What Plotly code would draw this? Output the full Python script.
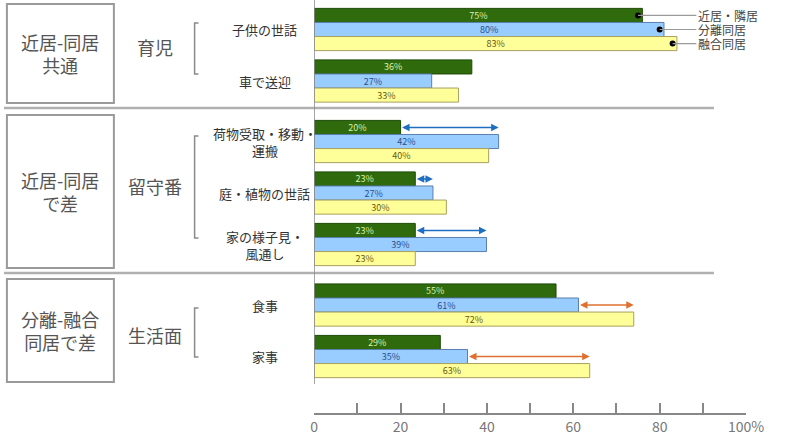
import plotly.graph_objects as go

# data
categories = ["子供の世話", "車で送迎", "荷物受取・移動・<br>運搬", "庭・植物の世話",
              "家の様子見・<br>風通し", "食事", "家事"]
cat_group = [0, 0, 1, 1, 1, 2, 2]
series_names = ["近居・隣居", "分離同居", "融合同居"]
near_vals = [76, 36.5, 20, 23.4, 23.4, 56, 29.2]
sep_vals = [81, 27.2, 42.7, 27.5, 39.9, 61.2, 35.5]
fused_vals = [84, 33.4, 40.4, 30.6, 23.4, 74, 63.8]
near_labels = ["75%", "36%", "20%", "23%", "23%", "55%", "29%"]
sep_labels = ["80%", "27%", "42%", "27%", "39%", "61%", "35%"]
fused_labels = ["83%", "33%", "40%", "30%", "23%", "72%", "63%"]
group_titles = ["近居-同居<br>共通", "近居-同居<br>で差", "分離-融合<br>同居で差"]
group_subtitles = ["育児", "留守番", "生活面"]
tick_vals = [0, 20, 40, 60, 80, 100]
tick_text = ["0", "20", "40", "60", "80", "100%"]

W, H = 800, 436
FONT = "Noto Sans CJK JP"


def px(x):
    return x / W


def py(y):
    return 1 - y / H


# category positions with extra gap between groups
pos = [i + 0.175 * g for i, g in enumerate(cat_group)]
bargap = 0.18
off = (1 - bargap) / 3

fig = go.Figure()
styles = [
    ("#2f6b0c", "#1d4a05", "#d8f0b0", near_vals, near_labels),
    ("#99ccff", "#5a7fb0", "#2a4f8f", sep_vals, sep_labels),
    ("#ffff99", "#a8a060", "#6b5a10", fused_vals, fused_labels),
]
for name, (col, lcol, tcol, vals, labs) in zip(series_names, styles):
    fig.add_trace(go.Bar(
        x=vals, y=pos, orientation="h", name=name,
        marker=dict(color=col, line=dict(color=lcol, width=1)),
        text=labs, textposition="inside", insidetextanchor="middle",
        textangle=0, constraintext="none",
        textfont=dict(size=9, color=tcol, family=FONT),
        hoverinfo="skip"))

# legend dots on first category
dot_x = [near_vals[0] - 1, sep_vals[0] - 1, fused_vals[0] - 1]
dot_y = [pos[0] - off, pos[0], pos[0] + off]
fig.add_trace(go.Scatter(x=dot_x, y=dot_y, mode="markers",
                         marker=dict(color="black", size=6), hoverinfo="skip"))

ann = []
for name, dx, dy in zip(series_names, dot_x, dot_y):
    ann.append(dict(x=dx, y=dy, xref="x", yref="y", ax=88.5, ay=dy,
                    axref="x", ayref="y", text=name, showarrow=True,
                    arrowhead=0, arrowwidth=1.2, arrowcolor="#9a9a9a",
                    xanchor="left", font=dict(size=12, color="#444", family=FONT)))

# difference arrows
arrows = [(2, near_vals, sep_vals, -off, "#1f6fc0"),
          (3, near_vals, sep_vals, -off, "#1f6fc0"),
          (4, near_vals, sep_vals, -off, "#1f6fc0"),
          (5, sep_vals, fused_vals, 0, "#e07030"),
          (6, sep_vals, fused_vals, 0, "#e07030")]
for i, a, b, o, c in arrows:
    ann.append(dict(x=b[i], y=pos[i] + o, ax=a[i], ay=pos[i] + o, xref="x", yref="y",
                    axref="x", ayref="y", text="", showarrow=True, arrowhead=2,
                    arrowside="end+start", arrowsize=1, arrowwidth=1.5, arrowcolor=c,
                    standoff=0, startstandoff=0))

# category labels
for cat, p in zip(categories, pos):
    ann.append(dict(x=px(268), y=p, xref="paper", yref="y", text=cat, showarrow=False,
                    xanchor="center", yanchor="middle",
                    font=dict(size=13, color="#333", family=FONT)))

box_y = [(4, 103), (115, 268), (279, 382)]
sub_y = [47, 186, 335]
brackets = [(23, 74), (136, 238), (308, 357)]
shapes = []
for (y0, y1), t, st, sy, (b0, b1) in zip(box_y, group_titles, group_subtitles, sub_y, brackets):
    shapes.append(dict(type="rect", xref="paper", yref="paper", x0=px(3), x1=px(113),
                       y0=py(y1), y1=py(y0), line=dict(color="#9a9a9a", width=2)))
    ann.append(dict(x=px(58), y=py((y0 + y1) / 2), xref="paper", yref="paper", text=t,
                    showarrow=False, xanchor="center", yanchor="middle",
                    font=dict(size=18, color="#555", family=FONT)))
    ann.append(dict(x=px(155), y=py(sy), xref="paper", yref="paper", text=st,
                    showarrow=False, xanchor="center", yanchor="middle",
                    font=dict(size=18, color="#555", family=FONT)))
    shapes.append(dict(type="path", xref="paper", yref="paper",
                       path="M %f,%f L %f,%f L %f,%f L %f,%f" % (
                           px(200), py(b0), px(196), py(b0), px(196), py(b1), px(200), py(b1)),
                       line=dict(color="#8a8a8a", width=1.5)))

# separators
for sy in [108, 273]:
    shapes.append(dict(type="line", xref="paper", yref="paper", x0=0, x1=px(730),
                       y0=py(sy), y1=py(sy), line=dict(color="#b0b0b0", width=2.5)))
# vertical base line
shapes.append(dict(type="line", xref="x", yref="paper", x0=0, x1=0, y0=py(384), y1=1,
                   line=dict(color="#888", width=1.5)))

ytop = -29.5 / 51.5
ybot = (413 - 29.5) / 51.5
xdom = [px(319), px(763)]

fig.update_layout(
    width=W, height=H, margin=dict(l=0, r=0, t=0, b=0),
    paper_bgcolor="white", plot_bgcolor="white",
    barmode="group", bargap=bargap, bargroupgap=0, showlegend=False,
    font=dict(family=FONT),
    xaxis=dict(domain=xdom, range=[0, 100], showgrid=False, zeroline=False,
               showline=True, linecolor="#888", linewidth=1.5,
               tickvals=tick_vals, ticktext=tick_text, ticks="inside", ticklen=10,
               tickcolor="#888", tickwidth=1.5,
               tickfont=dict(size=14, color="#777", family=FONT),
               minor=dict(tickvals=[10, 30, 50, 70, 90], ticks="inside", ticklen=10,
                          tickcolor="#888", tickwidth=1.5)),
    xaxis2=dict(domain=xdom, range=[0, 100], overlaying="x", anchor="y",
                showgrid=False, zeroline=False, showline=False, showticklabels=False,
                tickvals=[0, 50, 100], ticks="inside", ticklen=17,
                tickcolor="#888", tickwidth=1.5),
    yaxis=dict(domain=[py(413), 1], range=[ybot, ytop], showgrid=False, zeroline=False,
               showline=False, showticklabels=False, ticks=""),
    annotations=ann, shapes=shapes,
)

fig.write_html("out.html", config={"displayModeBar": False},
               post_script="document.body.style.margin='0';")
